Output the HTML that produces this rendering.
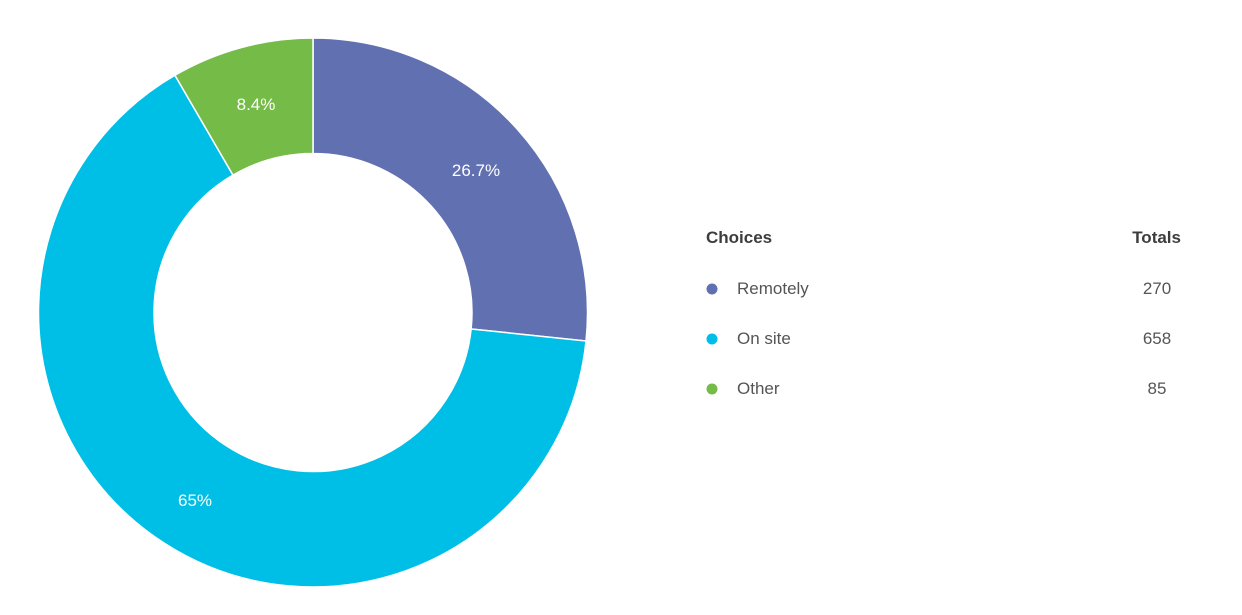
<!DOCTYPE html>
<html><head><meta charset="utf-8"><style>
body{margin:0;background:#fff;width:1242px;height:615px;overflow:hidden;font-family:"Liberation Sans",sans-serif;}
</style></head><body>
<svg width="1242" height="615" xmlns="http://www.w3.org/2000/svg" style="position:absolute;left:0;top:0">
<g stroke="#fff" stroke-width="1.5" stroke-linejoin="round">
<path d="M313,38 A274.5,274.5 0 0 1 586.02,340.96 L471.14,328.98 A159,159 0 0 0 313,153.5 Z" fill="#6170b0"/>
<path d="M586.02,340.96 A274.5,274.5 0 1 1 174.92,75.26 L233.02,175.08 A159,159 0 1 0 471.14,328.98 Z" fill="#00bfe6"/>
<path d="M174.92,75.26 A274.5,274.5 0 0 1 313,38 L313,153.5 A159,159 0 0 0 233.02,175.08 Z" fill="#74bb47"/>
</g>
<g fill="#fff" font-size="17" text-anchor="middle" font-family="Liberation Sans, sans-serif">
<text x="476" y="176">26.7%</text>
<text x="195" y="506">65%</text>
<text x="256" y="110">8.4%</text>
</g>
<g font-family="Liberation Sans, sans-serif" fill="#3d3d3d">
<text x="706" y="243" font-size="17" font-weight="bold">Choices</text>
<text x="1181" y="243" font-size="17" font-weight="bold" text-anchor="end">Totals</text>
<circle cx="712" cy="289" r="5.5" fill="#6170b0"/>
<circle cx="712" cy="339" r="5.5" fill="#00bfe6"/>
<circle cx="712" cy="389" r="5.5" fill="#74bb47"/>
<g font-size="17" fill="#555">
<text x="737" y="294">Remotely</text>
<text x="737" y="344">On site</text>
<text x="737" y="394">Other</text>
<text x="1157" y="294" text-anchor="middle">270</text>
<text x="1157" y="344" text-anchor="middle">658</text>
<text x="1157" y="394" text-anchor="middle">85</text>
</g>
</g>
</svg>
</body></html>
